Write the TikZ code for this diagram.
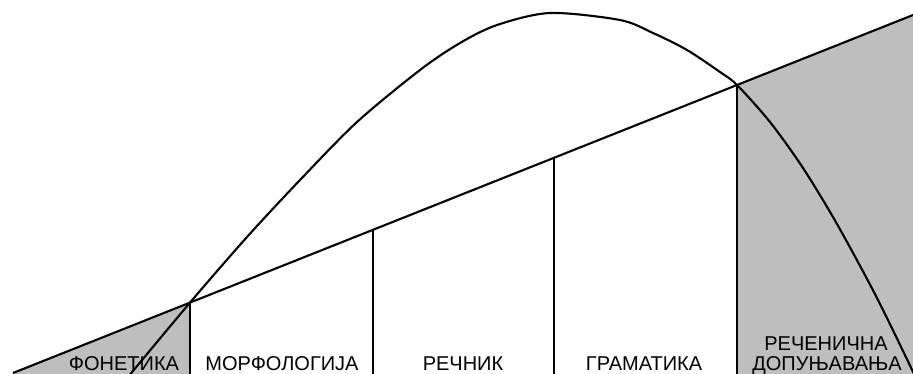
\documentclass[tikz,border=0pt]{standalone}
\usepackage{fontspec}
\setmainfont{Liberation Sans}
\definecolor{shadegray}{HTML}{BEBEBE}
\begin{document}
\begin{tikzpicture}[x=1pt,y=-1pt,line width=2.1pt,
  lbl/.style={font=\fontsize{20}{21}\selectfont,anchor=base,inner sep=0pt},
  region/.style={fill=shadegray,draw=none}]
\useasboundingbox (0,0) rectangle (913,373);
\clip (0,0) rectangle (913,373);
% points on the sloping line
\coordinate (A) at (13,373);
\coordinate (F) at (913,15);
\coordinate (B) at (190,302.6);
\coordinate (C) at (373,229.8);
\coordinate (D) at (554,157.8);
\coordinate (E) at (737,85.0);
% feet of the verticals
\coordinate (Bf) at (190,376);
\coordinate (Cf) at (373,376);
\coordinate (Df) at (554,376);
\coordinate (Ef) at (737,376);
\coordinate (Ff) at (913,376);
% shaded regions
\fill[region] (A) -- (B) -- (Bf) -- (13,376) -- cycle;
\fill[region] (E) -- (F) -- (Ff) -- (Ef) -- cycle;
% sloping line and verticals
\draw (A) -- (F);
\draw (B) -- (Bf);
\draw (C) -- (Cf);
\draw (D) -- (Df);
\draw (E) -- (Ef);
% curve
\draw plot[smooth] coordinates {(128,377) (190,302.6) (247,237) (300,180) (357,122) (420,70) (460,43) (497,25) (550,13) (620,20) (653,33) (687,50) (720,72) (737,85) (770,122) (803,168) (837,224) (877,298) (915,376)};
% labels
\node[lbl] (fon) at (124,370.5) {ФОНЕТИКА};
\node[lbl] (mor) at (282,370.5) {МОРФОЛОГИЈА};
\node[lbl] (rec) at (463,370.5) {РЕЧНИК};
\node[lbl] (gra) at (644,370.5) {ГРАМАТИКА};
\node[lbl] (ren) at (826,350) {РЕЧЕНИЧНА};
\node[lbl] (dop) at (827,370.5) {ДОПУЊАВАЊА};
\end{tikzpicture}
\end{document}
